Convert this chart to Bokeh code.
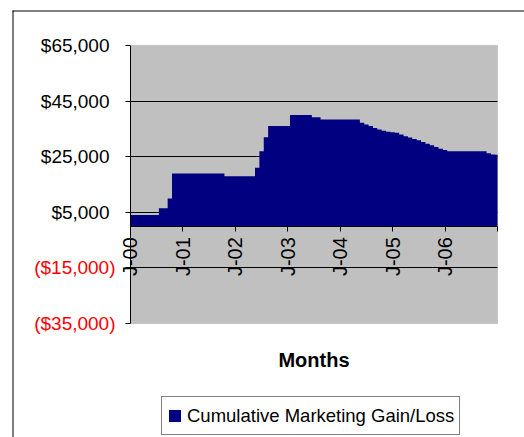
import math
from bokeh.plotting import figure
from bokeh.models import (Range1d, FixedTicker, Label, Legend, LegendItem, BoxAnnotation)
from bokeh.embed import file_html
from bokeh.resources import INLINE

# ---- data ----
month_index = list(range(85))  # Jan-2000 .. Jan-2007
gain_loss = [
    4000, 4000, 4000, 4000, 4000, 4000, 4000,
    6500, 6500,
    10000,
    19000, 19000, 19000, 19000, 19000, 19000, 19000, 19000, 19000, 19000, 19000, 19000,
    18000, 18000, 18000, 18000, 18000, 18000, 18000,
    21000,
    27000,
    32000,
    36000, 36000, 36000, 36000, 36000,
    40000, 40000, 40000, 40000, 40000,
    39200, 39200,
    38400, 38400, 38400, 38400, 38400, 38400, 38400, 38400, 38400,
    37200, 36600, 36000, 35300, 34800, 34300, 34000, 33800, 33600, 33000,
    32400, 31900, 31400, 30900, 30300, 29700, 29100, 28500, 27900, 27400,
    27000, 27000, 27000, 27000, 27000, 27000, 27000, 27000, 27000,
    26200, 25800, 25700,
]
x_ticks = [0, 12, 24, 36, 48, 60, 72, 84]
x_labels = ["J-00", "J-01", "J-02", "J-03", "J-04", "J-05", "J-06", ""]
y_ticks = [-35000, -15000, 5000, 25000, 45000, 65000]
y_labels = ["($35,000)", "($15,000)", "$5,000", "$25,000", "$45,000", "$65,000"]
series_name = "Cumulative Marketing Gain/Loss"
x_title = "Months"

# ---- layout (pixels) ----
W, H = 524, 437
PL, PR, PT, PB = 130, 497, 45, 323   # plot-area box on the canvas
FONT = "Liberation Sans"
NAVY = "#000080"

x_lo, x_hi = month_index[0], month_index[-1]
y_lo, y_hi = y_ticks[0], y_ticks[-1]
ppx = (PR - PL) / (x_hi - x_lo)
ppy = (PB - PT) / (y_hi - y_lo)
x_range = Range1d(x_lo - PL / ppx, x_hi + (W - PR) / ppx)
y_range = Range1d(y_lo - (H - PB) / ppy, y_hi + PT / ppy)

p = figure(width=W, height=H, output_backend="svg", toolbar_location=None,
           x_range=x_range, y_range=y_range,
           background_fill_color="white", border_fill_color="white")
p.min_border = 0
p.min_border_left = 0
p.min_border_right = 0
p.min_border_top = 0
p.min_border_bottom = 0
p.outline_line_color = None

# outer chart border (only its left and top edges fall inside the window)
p.add_layout(BoxAnnotation(left=12, right=13, top=H - 10, bottom=0,
                           left_units="screen", right_units="screen",
                           top_units="screen", bottom_units="screen",
                           fill_color="black", fill_alpha=1, line_color=None,
                           level="image"))
p.add_layout(BoxAnnotation(left=12, right=W, top=H - 10, bottom=H - 11,
                           left_units="screen", right_units="screen",
                           top_units="screen", bottom_units="screen",
                           fill_color="black", fill_alpha=1, line_color=None,
                           level="image"))
# grey plot area
p.add_layout(BoxAnnotation(left=x_lo, right=x_hi, bottom=y_lo, top=y_hi,
                           fill_color="#C0C0C0", fill_alpha=1,
                           line_color="#8C8C8C", line_width=1, level="image"))

# horizontal grid lines
p.xgrid.visible = False
grid_ticks = y_ticks[1:-1]
yg = p.ygrid[0]
if "cross_bounds" in yg.properties():
    yg.ticker = FixedTicker(ticks=grid_ticks)
    yg.cross_bounds = (x_lo, x_hi)
    yg.grid_line_color = "black"
    yg.grid_line_width = 1
else:
    yg.visible = False
    p.segment(x0=[x_lo] * len(grid_ticks), x1=[x_hi] * len(grid_ticks),
              y0=grid_ticks, y1=grid_ticks, line_color="black", line_width=1)

r = p.varea_step(x=month_index, y1=0, y2=gain_loss, step_mode="center",
                 fill_color=NAVY)

# y axis along the left edge of the plot area
ya = p.yaxis[0]
ya.fixed_location = x_lo
ya.bounds = (y_lo, y_hi)
ya.ticker = FixedTicker(ticks=y_ticks)
ya.major_label_overrides = {t: (lab if t >= 0 else "") for t, lab in zip(y_ticks, y_labels)}
ya.axis_line_color = "black"
ya.major_tick_line_color = "black"
ya.major_tick_out = 5
ya.major_tick_in = 0
ya.minor_tick_out = 0
ya.minor_tick_in = 0
ya.major_label_standoff = 16
ya.major_label_text_font = FONT
ya.major_label_text_font_size = "19px"
ya.major_label_text_color = "black"

for t, lab in zip(y_ticks, y_labels):
    if t < 0:
        p.add_layout(Label(x=x_lo, y=t, x_offset=-15, text=lab,
                           text_color="red", text_align="right", text_baseline="middle",
                           text_font=FONT, text_font_size="19px"))

# x axis at zero
xa = p.xaxis[0]
xa.fixed_location = 0
xa.bounds = (x_lo, x_hi)
xa.ticker = FixedTicker(ticks=x_ticks)
xa.major_label_overrides = {t: lab for t, lab in zip(x_ticks, x_labels)}
xa.major_label_orientation = math.pi / 2
xa.axis_line_color = "black"
xa.major_tick_line_color = "black"
xa.major_tick_out = 5
xa.major_tick_in = 0
xa.minor_tick_out = 0
xa.minor_tick_in = 0
xa.major_label_standoff = 6
xa.major_label_text_font = FONT
xa.major_label_text_font_size = "20px"
xa.major_label_text_color = "black"
xa.axis_label = x_title
xa.axis_label_text_font = FONT
xa.axis_label_text_font_size = "20px"
xa.axis_label_text_font_style = "bold"
xa.axis_label_text_color = "black"
xa.axis_label_standoff = 70

legend = Legend(items=[LegendItem(label=series_name, renderers=[r])],
                location=(161, 2), orientation="horizontal",
                border_line_color="black", border_line_width=1,
                background_fill_color="white", background_fill_alpha=1,
                padding=5, spacing=0, margin=0,
                glyph_width=15, glyph_height=15, label_standoff=5, label_height=27,
                label_text_font=FONT, label_text_font_size="18.5px",
                label_text_color="black")
p.add_layout(legend)

open("out.html", "w").write(file_html(p, INLINE))
